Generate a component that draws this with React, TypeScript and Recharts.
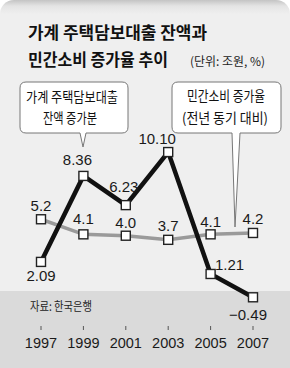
import React from 'react';
import { LineChart, Line, XAxis, YAxis, LabelList } from 'recharts';

const years = ['1997', '1999', '2001', '2003', '2005', '2007'];
const mortgageGrowth = [2.09, 8.36, 6.23, 10.1, 1.21, -0.49];
const consumptionGrowth = [5.2, 4.1, 4.0, 3.7, 4.1, 4.2];
const mortgageLabels = ['2.09', '8.36', '6.23', '10.10', '1.21', '−0.49'];
const consumptionLabels = ['5.2', '4.1', '4.0', '3.7', '4.1', '4.2'];

// label offsets from each point (style only)
const mortgageOffsets = [[0, 14], [-6, -16], [-2, -19], [-11, -14], [19, -9], [-5, 17]];
const consumptionOffsets = [[0, -14], [0, -16], [0, -13], [0, -14], [0, -13], [0, -14]];

const data = years.map((y, i) => ({ year: y, mortgage: mortgageGrowth[i], consumption: consumptionGrowth[i] }));

const NUM_FONT = '"Liberation Sans", Arial, sans-serif';
const KR_FONT = '"Noto Sans CJK KR", "Noto Sans", sans-serif';

const SquareDot = (props: any) => {
  const { cx, cy } = props;
  if (cx == null || cy == null) return null;
  return <rect x={cx - 4.5} y={cy - 4.5} width={9} height={9} fill="#fff" stroke="#222" strokeWidth={1.4} />;
};

const makeLabel = (texts: string[], offsets: number[][]) => (props: any) => {
  const { x, y, index } = props;
  const [dx, dy] = offsets[index];
  return (
    <text x={x + dx} y={y + dy} textAnchor="middle" dominantBaseline="central"
      fontFamily={NUM_FONT} fontSize={15} fill="#1a1a1a">
      {texts[index]}
    </text>
  );
};

const YearTick = (props: any) => {
  const { x, y, payload } = props;
  return (
    <g>
      <line x1={x} x2={x} y1={y + 8} y2={y + 12} stroke="#555" strokeWidth={1} />
      <text x={x} y={y + 25} textAnchor="middle" dominantBaseline="central"
        fontFamily={NUM_FONT} fontSize={14.5} fill="#1a1a1a">
        {payload.value}
      </text>
    </g>
  );
};

const App: React.FC = () => {
  return (
    <div style={{ position: 'relative', width: 290, height: 368, background: '#fff', overflow: 'hidden' }}>
      <style>{`body{margin:0}`}</style>
      <div style={{
        position: 'absolute', inset: 0, borderRadius: '14px 14px 0 0',
        background: 'linear-gradient(to bottom, #c4c4c4 0px, #e4e4e4 6px, #efefef 14px, #efefef 291px, #dadada 291px, #dadada 368px)',
      }} />
      <div style={{ position: 'absolute', left: 0, top: 0 }}>
        <LineChart width={290} height={368} data={data} margin={{ top: 126, right: 37, bottom: 20, left: 41 }}>
          <XAxis dataKey="year" axisLine={false} tickLine={false} tickSize={0} tickMargin={0} height={30}
            interval={0} tick={<YearTick />} padding={{ left: 0, right: 0 }} />
          <YAxis hide domain={[-2, 12]} />
          <Line dataKey="consumption" stroke="#9a9a9a" strokeWidth={3.5} dot={<SquareDot />} isAnimationActive={false}>
            <LabelList dataKey="consumption" content={makeLabel(consumptionLabels, consumptionOffsets)} />
          </Line>
          <Line dataKey="mortgage" stroke="#111" strokeWidth={4.5} dot={<SquareDot />} isAnimationActive={false}>
            <LabelList dataKey="mortgage" content={makeLabel(mortgageLabels, mortgageOffsets)} />
          </Line>
        </LineChart>
      </div>
      <svg width={290} height={368} style={{ position: 'absolute', left: 0, top: 0, pointerEvents: 'none' }}>
        <text x={28} y={31} dominantBaseline="central" fontFamily={KR_FONT} fontWeight={700} fontSize={17}
          fill="#111" textLength={179} lengthAdjust="spacingAndGlyphs">가계 주택담보대출 잔액과</text>
        <text x={28} y={58} dominantBaseline="central" fontFamily={KR_FONT} fontWeight={700} fontSize={17}
          fill="#111" textLength={140} lengthAdjust="spacingAndGlyphs">민간소비 증가율 추이</text>
        <text x={190} y={60} dominantBaseline="central" fontFamily={KR_FONT} fontSize={12}
          fill="#222" textLength={75} lengthAdjust="spacingAndGlyphs">(단위: 조원, %)</text>
        <text x={30} y={305} dominantBaseline="central" fontFamily={KR_FONT} fontSize={12}
          fill="#222" textLength={62} lengthAdjust="spacingAndGlyphs">자료: 한국은행</text>

        {/* callout: mortgage */}
        <path d="M26,82 H122 Q128,82 128,88 V127 Q128,133 122,133 H86 L83,147 L80,133 H26 Q20,133 20,127 V88 Q20,82 26,82 Z"
          fill="#fff" stroke="#777" strokeWidth={1} />
        <text x={26} y={96} dominantBaseline="central" fontFamily={KR_FONT} fontSize={14}
          fill="#111" textLength={92} lengthAdjust="spacingAndGlyphs">가계 주택담보대출</text>
        <text x={43} y={117} dominantBaseline="central" fontFamily={KR_FONT} fontSize={14}
          fill="#111" textLength={54} lengthAdjust="spacingAndGlyphs">잔액 증가분</text>

        {/* callout: consumption */}
        <path d="M178,82 H275 Q281,82 281,88 V127 Q281,133 275,133 H240 L235,227 L232,133 H178 Q172,133 172,127 V88 Q172,82 178,82 Z"
          fill="#fff" stroke="#777" strokeWidth={1} />
        <text x={187} y={95} dominantBaseline="central" fontFamily={KR_FONT} fontSize={14}
          fill="#111" textLength={78} lengthAdjust="spacingAndGlyphs">민간소비 증가율</text>
        <text x={182} y={117} dominantBaseline="central" fontFamily={KR_FONT} fontSize={14}
          fill="#111" textLength={86} lengthAdjust="spacingAndGlyphs">(전년 동기 대비)</text>
      </svg>
    </div>
  );
};

export default App;
